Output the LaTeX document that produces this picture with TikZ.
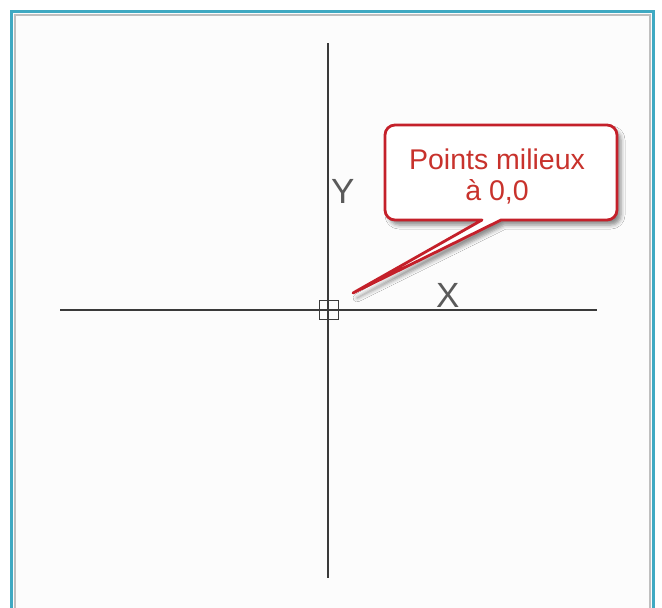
\documentclass[tikz,border=0pt]{standalone}
\usepackage{fontspec}
\setmainfont{Liberation Sans}
\usetikzlibrary{shadows.blur}
\definecolor{frameteal}{HTML}{3FA9C2}
\definecolor{calloutred}{HTML}{C4202A}
\definecolor{textred}{HTML}{C8322C}
\definecolor{axisgray}{HTML}{3A3A3A}
\definecolor{lettergray}{HTML}{5A5A5A}
\tikzset{
  axisline/.style={draw=axisgray, line width=1.8pt},
  axislabel/.style={text=lettergray, font=\fontsize{35}{35}\selectfont, inner sep=0pt, anchor=base west},
  calloutbox/.style={draw=calloutred, line width=2.8pt, fill=white, line join=round,
    blur shadow={shadow xshift=4pt, shadow yshift=-5pt, shadow blur radius=4pt, shadow opacity=45}},
  callouttext/.style={text=textred, font=\fontsize{28.5}{31}\selectfont, align=center, inner sep=0pt}
}
\begin{document}
\begin{tikzpicture}[x=1pt,y=-1pt]
\useasboundingbox (0,0) rectangle (662,608);
\fill[white] (0,0) rectangle (662,608);
% frame
\fill[black!1] (12,12) rectangle (653,608);
\draw[black!25, line width=1.2pt] (15,608) -- (15,15) -- (650,15) -- (650,608);
\draw[frameteal, line width=2.4pt] (11.5,608) -- (11.5,11.5) -- (653.5,11.5) -- (653.5,608);
% axes
\coordinate (ytop) at (328,43);
\coordinate (ybot) at (328,578);
\coordinate (xleft) at (60,310);
\coordinate (xright) at (597,310);
\draw[axisline] (ytop) -- (ybot);
\draw[axisline] (xleft) -- (xright);
% origin marker
\node[draw=axisgray, line width=1.8pt, minimum size=19pt, inner sep=0pt] (origin) at (329,310) {};
% axis labels
\node[axislabel] (ylab) at (331,203) {Y};
\node[axislabel] (xlab) at (436,307) {X};
% callout
\coordinate (tip) at (353,293);
\path[calloutbox] [rounded corners=10pt] (482,220) -- (385,220) -- (385,125) -- (617,125) -- (617,220) [sharp corners] -- (501,220) -- (tip) -- cycle;
\node[callouttext] (callout) at (497,176) {Points milieux\\à 0,0};
\end{tikzpicture}
\end{document}
